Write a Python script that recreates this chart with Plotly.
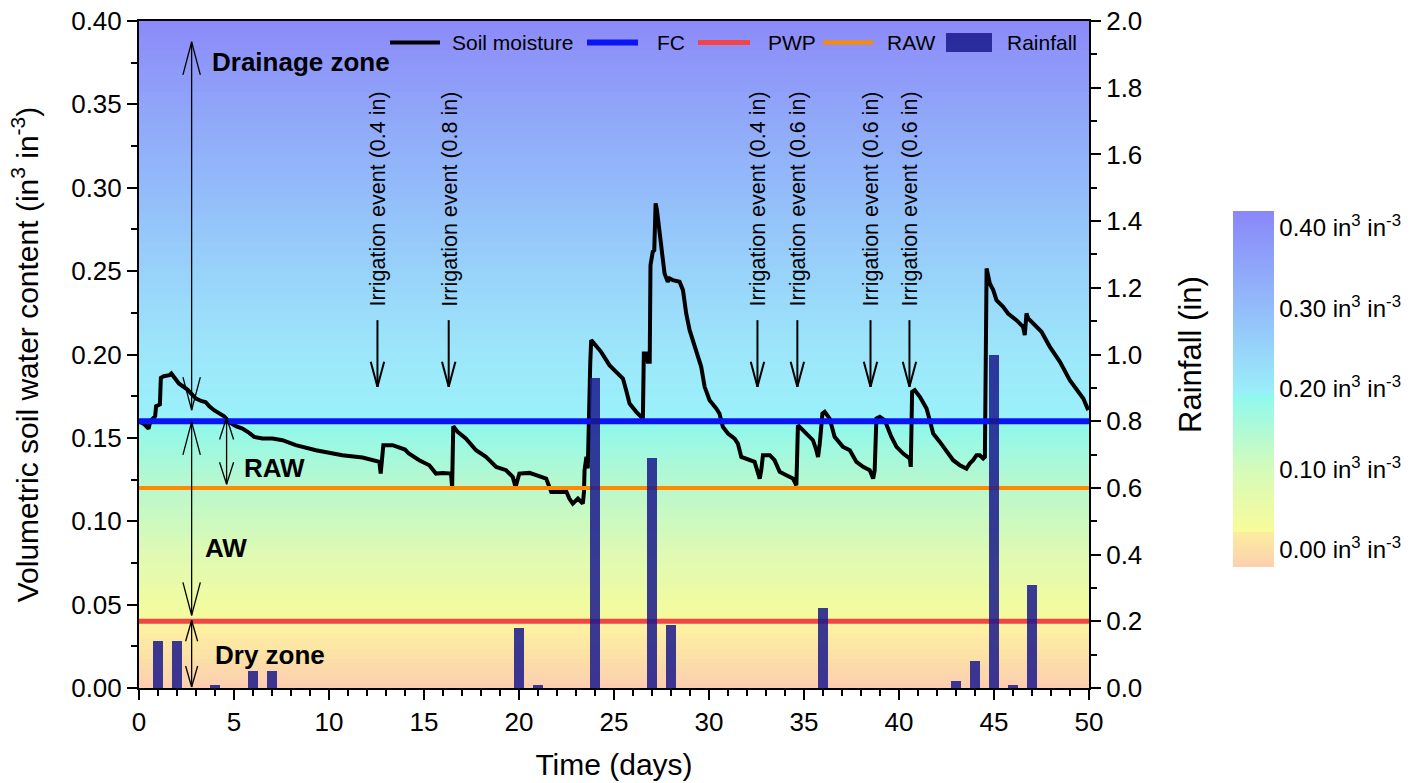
import numpy as np
import plotly.graph_objects as go

# ---------------- data ----------------
days = [0.0, 0.3, 0.5, 0.6, 0.85, 0.9, 1.1, 1.15, 1.3, 1.6, 1.7, 1.85, 2.1, 2.55, 3.0, 3.3, 3.5, 3.7,
        3.95, 4.48, 4.74, 5.1, 5.44, 5.8, 6.06, 6.5, 7.02, 7.55, 8.25, 9.31, 10.7, 11.77, 12.65, 12.72,
        12.86, 13.35, 13.6, 14.0, 14.2, 14.75, 15.28, 15.63, 16.0, 16.42, 16.48, 16.54, 16.77, 17.2,
        17.74, 18.26, 18.8, 19.32, 19.67, 19.82, 20.02, 20.55, 20.9, 21.43, 21.7, 22.2, 22.5, 22.65,
        22.83, 23.1, 23.36, 23.42, 23.45, 23.55, 23.62, 23.75, 23.8,
        24.32, 24.76, 25.11, 25.47, 25.64, 25.82, 26.17, 26.52, 26.57, 26.7, 26.78, 26.88, 26.92, 27.04,
        27.12, 27.19, 27.26, 27.36, 27.48, 27.66, 27.83, 27.92, 28.1, 28.45, 28.63, 28.8, 28.98, 29.33,
        29.59, 29.77, 30.03, 30.38, 30.55, 30.73, 31.0, 31.35, 31.52, 31.7, 31.95, 32.4, 32.67, 32.75,
        32.84, 33.2, 33.45, 33.72, 34.07, 34.42, 34.6, 34.68, 34.77, 35.12, 35.47, 35.65, 35.74, 35.83,
        35.97, 36.09, 36.35, 36.61, 37.05, 37.41, 37.76, 38.11, 38.46, 38.64, 38.72, 38.81, 38.99, 39.25,
        39.6, 39.87, 40.22, 40.57, 40.62, 40.69, 40.83, 41.1, 41.45, 41.62, 41.8, 42.15, 42.5, 42.85,
        43.2, 43.55, 43.72, 43.9, 44.08, 44.25, 44.43, 44.52, 44.61, 44.69, 44.78, 44.96, 45.13, 45.48,
        45.74, 46.18, 46.53, 46.62, 46.71, 46.8, 47.06, 47.5, 47.94, 48.47, 48.99, 49.34, 49.7, 49.96]
soil_moisture = [0.160, 0.158, 0.1555, 0.160, 0.163, 0.169, 0.170, 0.186, 0.187, 0.1876, 0.1886, 0.1866,
                 0.1826, 0.179, 0.1736, 0.172, 0.1715, 0.169, 0.1666, 0.163, 0.1596, 0.157, 0.1556, 0.153,
                 0.1506, 0.1496, 0.1496, 0.1486, 0.1456, 0.1426, 0.1396, 0.1382, 0.1356, 0.1286, 0.1456,
                 0.1456, 0.1445, 0.143, 0.1406, 0.1366, 0.1336, 0.1286, 0.129, 0.1286, 0.1206, 0.157,
                 0.1536, 0.1496, 0.1426, 0.1386, 0.1326, 0.1306, 0.1266, 0.1206, 0.1286, 0.129, 0.1276,
                 0.1256, 0.1176, 0.1176, 0.1176, 0.1136, 0.1106, 0.1136, 0.1106, 0.1176, 0.1306, 0.1386,
                 0.1316, 0.195, 0.2086,
                 0.2016, 0.1936, 0.1896, 0.1856, 0.1786, 0.1706, 0.1656, 0.1616, 0.2006, 0.2006, 0.1956,
                 0.1956, 0.2536, 0.2616, 0.2626, 0.2906, 0.2866, 0.2766, 0.2646, 0.2486, 0.2436, 0.2456,
                 0.2446, 0.2436, 0.2386, 0.2246, 0.2146, 0.2026, 0.1926, 0.1806, 0.1726, 0.1676, 0.1646,
                 0.1566, 0.1526, 0.1496, 0.1466, 0.1386, 0.1376, 0.1356, 0.1256, 0.1306, 0.1396, 0.1396,
                 0.1366, 0.1296, 0.1276, 0.1256, 0.1216, 0.1576, 0.1566, 0.1526, 0.1486, 0.1426, 0.1386,
                 0.1466, 0.1646, 0.1656, 0.1616, 0.1506, 0.1446, 0.1426, 0.1356, 0.1326, 0.1306, 0.1256,
                 0.1306, 0.1616, 0.1626, 0.1606, 0.1506, 0.1446, 0.1406, 0.1376, 0.1326, 0.1776, 0.1786,
                 0.1746, 0.1676, 0.1606, 0.1526, 0.1476, 0.1416, 0.1366, 0.1336, 0.1316, 0.1346, 0.1366,
                 0.1396, 0.1396, 0.1376, 0.1386, 0.2516, 0.2476, 0.2426, 0.2386, 0.2326, 0.2286, 0.2246,
                 0.2206, 0.2166, 0.2116, 0.2246, 0.2216, 0.2186, 0.2136, 0.2046, 0.1956, 0.1846, 0.1796,
                 0.1736, 0.1666]

rain_days = [1, 2, 4, 6, 7, 20, 21, 24, 27, 28, 36, 43, 44, 45, 46, 47]
rain_in = [0.14, 0.14, 0.01, 0.05, 0.05, 0.18, 0.01, 0.93, 0.69, 0.19, 0.24, 0.02, 0.08, 1.00, 0.01, 0.31]

FC = 0.16
RAW = 0.12
PWP = 0.04

irr_days = [12.55, 16.3, 32.55, 34.65, 38.5, 40.55]
irr_labels = ["Irrigation event (0.4 in)", "Irrigation event (0.8 in)", "Irrigation event (0.4 in)",
              "Irrigation event (0.6 in)", "Irrigation event (0.6 in)", "Irrigation event (0.6 in)"]
irr_arrow_top = 0.2206
irr_arrow_tip = 0.1806
irr_text_base = 0.2275

x_ticks = list(range(0, 51, 5))
cbar_ticks = [0.0, 0.1, 0.2, 0.3, 0.4]

# ---------------- style ----------------
FONT = "Arial, Liberation Sans, sans-serif"
W, H = 1423, 783
ML, MR, MT, MB = 139, 334, 21, 95
PLOT_W = W - ML - MR
PLOT_H = H - MT - MB
X_RANGE = [0, 50]
Y_RANGE = [0, 0.4]
Y2_RANGE = [0, 2.0]
PX_X = PLOT_W / (X_RANGE[1] - X_RANGE[0])
PX_Y = PLOT_H / (Y_RANGE[1] - Y_RANGE[0])

C_SM, C_FC, C_PWP, C_RAW = "black", "#0A14F5", "#F24646", "#FF8A00"
C_BAR = "rgba(25,25,140,0.85)"

bg_scale = [
    [0.000, "#FCCDB0"], [0.050, "#FCE2A6"], [0.100, "#FDF3A0"], [0.100, "#F6FB9B"],
    [0.200, "#DFFAB3"], [0.300, "#BAF8CC"], [0.400, "#8DF8EE"], [0.400, "#9AF2FA"],
    [0.500, "#9DE6FA"], [0.625, "#98D2FA"], [0.750, "#93BBFA"], [0.875, "#90A4F9"],
    [1.000, "#8C8AF9"],
]
cb_min, cb_max = -0.021, 0.421
cb_scale = [
    [0.000, "#FCD0AE"], [0.0995, "#FCEDA0"], [0.0995, "#F8FB9A"], [0.274, "#D5FBBA"],
    [0.486, "#8DF9EF"], [0.486, "#9BEFFA"], [0.726, "#93BCFA"], [1.000, "#8A87F9"],
]


# figure pixel -> paper coordinates
def px2paper_x(sx):
    return (sx - ML) / PLOT_W


def px2paper_y(sy):
    return (H - MB - sy) / PLOT_H


# background gradient grid
bg_step = 0.0025
bg_y = np.arange(Y_RANGE[0] + bg_step / 2, Y_RANGE[1], bg_step)
bg_x = [X_RANGE[0], X_RANGE[1]]
bg_z = np.repeat(bg_y[:, None], 2, axis=1)

fig = go.Figure()

fig.add_trace(go.Heatmap(x=bg_x, y=bg_y, z=bg_z, colorscale=bg_scale, zmin=Y_RANGE[0], zmax=Y_RANGE[1],
                         showscale=False, hoverinfo="skip", zsmooth=False))

# colorbar legend (separate mapping)
fig.add_trace(go.Scatter(
    x=[25], y=[-1], mode="markers", showlegend=False, hoverinfo="skip",
    marker=dict(size=1, color=[0.2], colorscale=cb_scale, cmin=cb_min, cmax=cb_max, showscale=True,
                colorbar=dict(
                    tickvals=cbar_ticks,
                    ticktext=[f"{v:.2f} in<sup>3</sup> in<sup>-3</sup>" for v in cbar_ticks],
                    tickfont=dict(family=FONT, size=24, color="black"),
                    ticks="", outlinewidth=0, thickness=41, thicknessmode="pixels",
                    len=356, lenmode="pixels", x=px2paper_x(1233), xanchor="left",
                    y=px2paper_y(389), yanchor="middle", xpad=0, ypad=0,
                ))))

fig.add_trace(go.Scatter(x=days, y=soil_moisture, mode="lines", name="Soil moisture", showlegend=False,
                         line=dict(color=C_SM, width=4)))
fig.add_trace(go.Scatter(x=X_RANGE, y=[FC, FC], mode="lines", name="FC", showlegend=False,
                         line=dict(color=C_FC, width=6)))
fig.add_trace(go.Scatter(x=X_RANGE, y=[PWP, PWP], mode="lines", name="PWP", showlegend=False,
                         line=dict(color=C_PWP, width=5)))
fig.add_trace(go.Scatter(x=X_RANGE, y=[RAW, RAW], mode="lines", name="RAW", showlegend=False,
                         line=dict(color=C_RAW, width=4)))
fig.add_trace(go.Bar(x=rain_days, y=rain_in, name="Rainfall", yaxis="y2", width=0.56, showlegend=False,
                     marker=dict(color=C_BAR, line=dict(width=0))))

shapes = []
annotations = []

# ---------------- legend (drawn in paper space) ----------------
legend_names = ["Soil moisture", "FC", "PWP", "RAW", "Rainfall"]
legend_kind = ["line", "line", "line", "line", "box"]
legend_colors = [C_SM, C_FC, C_PWP, C_RAW, C_BAR]
legend_widths = [4, 6, 5, 4, 0]
legend_sym_x0 = [390, 587, 698, 823, 946]
legend_sym_x1 = [440, 638, 750, 873, 992]
legend_text_x = [450, 655, 766, 885, 1005]
LEG_Y = 42.5
for nm, kd, col, lw, sx0, sx1, tx in zip(legend_names, legend_kind, legend_colors, legend_widths,
                                         legend_sym_x0, legend_sym_x1, legend_text_x):
    if kd == "line":
        shapes.append(dict(type="line", xref="paper", yref="paper", x0=px2paper_x(sx0), x1=px2paper_x(sx1),
                           y0=px2paper_y(LEG_Y), y1=px2paper_y(LEG_Y), line=dict(color=col, width=lw),
                           layer="above"))
    else:
        shapes.append(dict(type="rect", xref="paper", yref="paper", x0=px2paper_x(sx0), x1=px2paper_x(sx1),
                           y0=px2paper_y(LEG_Y + 9.5), y1=px2paper_y(LEG_Y - 9.5), fillcolor=col,
                           line=dict(width=0), layer="above"))
    annotations.append(dict(x=px2paper_x(tx), y=px2paper_y(LEG_Y), xref="paper", yref="paper", text=nm,
                            showarrow=False, xanchor="left", yanchor="middle",
                            font=dict(family=FONT, size=21, color="black")))


# ---------------- arrows (open V heads) ----------------
def seg(x0, y0, x1, y1, w):
    shapes.append(dict(type="line", xref="x", yref="y", x0=x0, y0=y0, x1=x1, y1=y1,
                       line=dict(color="black", width=w), layer="above"))


def head(x, y_tip, direction, L, Wd, w):
    # direction +1 : points up, -1 : points down
    dy = -direction * L / PX_Y
    dx = Wd / PX_X
    seg(x - dx, y_tip + dy, x, y_tip, w)
    seg(x + dx, y_tip + dy, x, y_tip, w)


def double_arrow(x, y_top, y_bot, L, Wd, w=1.3):
    seg(x, y_top, x, y_bot, w)
    head(x, y_top, +1, L, Wd, w)
    head(x, y_bot, -1, L, Wd, w)


zone_x = 2.77
double_arrow(zone_x, 0.3875, 0.1666, 33, 8.7)
double_arrow(zone_x, 0.1596, 0.0436, 33, 8.7)
double_arrow(zone_x, 0.0406, 0.0006, 21, 6)
double_arrow(4.61, 0.1622, 0.1222, 22, 7)

for d, lab in zip(irr_days, irr_labels):
    seg(d, irr_arrow_top, d, irr_arrow_tip, 2)
    head(d, irr_arrow_tip, -1, 25, 6.7, 2)
    annotations.append(dict(x=d + 0.05, y=irr_text_base, xref="x", yref="y", text=lab, showarrow=False,
                            textangle=-90, xanchor="center", yanchor="bottom",
                            font=dict(family=FONT, size=21.5, color="black")))

zone_labels = [("Drainage zone", 3.74, 0.3753), ("RAW", 5.42, 0.1318), ("AW", 3.37, 0.0838),
               ("Dry zone", 3.9, 0.0196)]
for t, xx, yy in zone_labels:
    annotations.append(dict(x=xx, y=yy, xref="x", yref="y", text=f"<b>{t}</b>", showarrow=False,
                            xanchor="left", yanchor="middle", font=dict(family=FONT, size=26, color="black")))

axis_common = dict(showline=True, linecolor="black", linewidth=2, ticks="outside", tickcolor="black",
                   tickwidth=1.5, ticklen=10, showgrid=False, zeroline=False, automargin=False,
                   ticklabeloverflow="allow",
                   tickfont=dict(family=FONT, size=26, color="black"))

fig.update_layout(
    width=W, height=H, autosize=False,
    margin=dict(l=ML, r=MR, t=MT, b=MB, pad=0),
    paper_bgcolor="white", plot_bgcolor="white",
    font=dict(family=FONT, color="black"),
    showlegend=False,
    xaxis=dict(range=X_RANGE, tickvals=x_ticks, mirror=True,
               minor=dict(dtick=1, ticks="outside", ticklen=6, tickcolor="black", tickwidth=1.5),
               title=dict(text="Time (days)", font=dict(family=FONT, size=30), standoff=18),
               **axis_common),
    yaxis=dict(range=Y_RANGE, dtick=0.05, tickformat=".2f",
               minor=dict(dtick=0.025, ticks="outside", ticklen=6, tickcolor="black", tickwidth=1.5),
               title=dict(text="Volumetric soil water content (in<sup>3</sup> in<sup>-3</sup>)",
                          font=dict(family=FONT, size=30), standoff=24),
               **axis_common),
    yaxis2=dict(range=Y2_RANGE, dtick=0.2, tickformat=".1f", overlaying="y", side="right",
                minor=dict(dtick=0.1, ticks="outside", ticklen=6, tickcolor="black", tickwidth=1.5),
                title=dict(text="Rainfall (in)", font=dict(family=FONT, size=31), standoff=38),
                **axis_common),
    shapes=shapes,
    annotations=annotations,
    bargap=0,
)

fig.write_html("out.html", config={"displayModeBar": False},
               post_script="document.body.style.margin='0px';")
